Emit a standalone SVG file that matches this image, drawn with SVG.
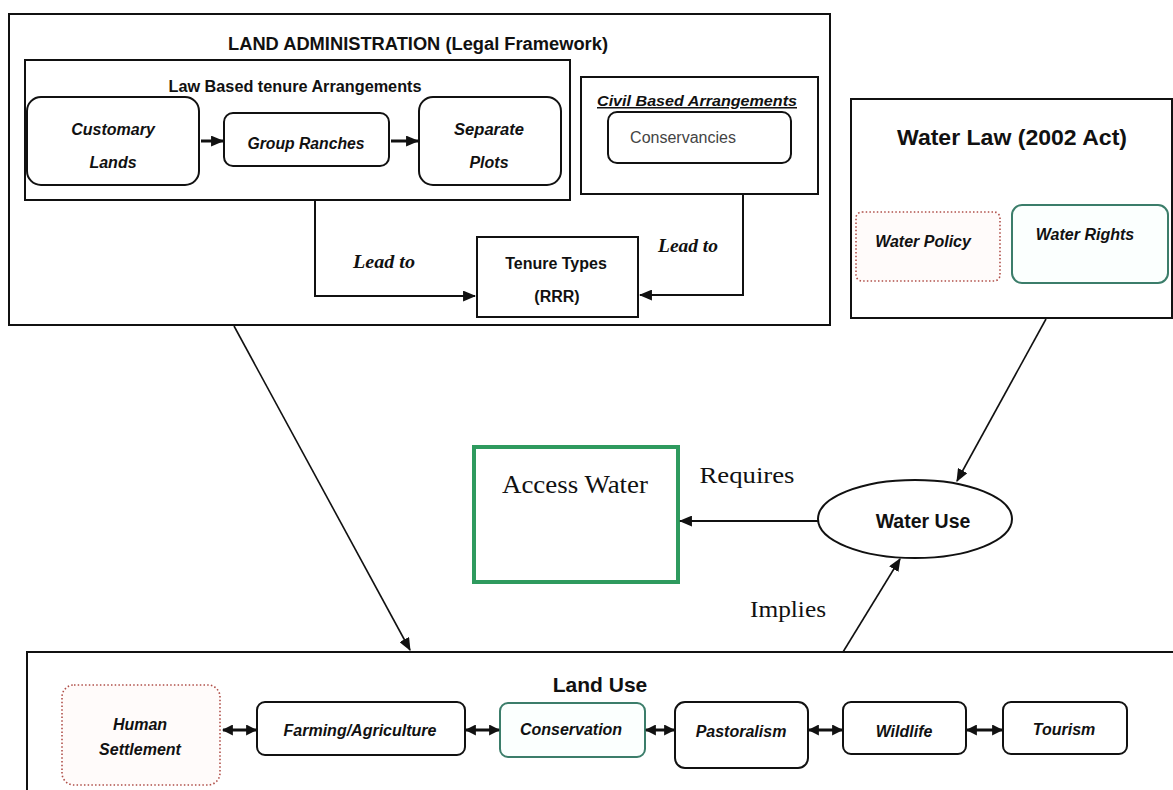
<svg xmlns="http://www.w3.org/2000/svg" width="1173" height="790" viewBox="0 0 1173 790">
<defs>
<style>
.box{fill:#fff;stroke:#111;stroke-width:2}
.rbox{fill:#fff;stroke:#111;stroke-width:2}
.t{font-family:"Liberation Sans",Arial,sans-serif;fill:#111;text-anchor:middle}
.b{font-weight:bold}
.i{font-style:italic;font-weight:bold}
.serif{font-family:"Liberation Serif","Times New Roman",serif;fill:#111;text-anchor:middle}
.line{fill:none;stroke:#111;stroke-width:2}
.thin{fill:none;stroke:#111;stroke-width:1.6}
.dbl{fill:none;stroke:#111;stroke-width:3}
.dotted{fill:#fffbfa;stroke:#b0504a;stroke-width:1.6;stroke-dasharray:1.5 2.2}
.teal{fill:#fbfffe;stroke:#3b7d6a;stroke-width:2}
</style>
<marker id="ah" viewBox="0 0 12 10" refX="11" refY="5" markerWidth="13" markerHeight="11" markerUnits="userSpaceOnUse" orient="auto">
<path d="M0,0 L12,5 L0,10 z" fill="#111"/>
</marker>
<marker id="ahs" viewBox="0 0 10 10" refX="9" refY="5" markerWidth="11" markerHeight="11" markerUnits="userSpaceOnUse" orient="auto-start-reverse">
<path d="M0,0 L10,5 L0,10 z" fill="#111"/>
</marker>
</defs>

<g id="land-administration">
<rect class="box" x="9" y="14" width="821" height="311"/>
<text class="t b" x="418" y="50" font-size="18" textLength="380" lengthAdjust="spacingAndGlyphs">LAND ADMINISTRATION (Legal Framework)</text>
</g>

<g id="law-based">
<rect class="box" x="25" y="60" width="545" height="140"/>
<text class="t b" x="295" y="92" font-size="16" textLength="253" lengthAdjust="spacingAndGlyphs">Law Based tenure Arrangements</text>
</g>

<g id="customary-lands">
<rect class="rbox" x="27" y="97" width="172" height="88" rx="14"/>
<text class="t i" x="113" y="135" font-size="16">Customary</text>
<text class="t i" x="113" y="168" font-size="16">Lands</text>
</g>

<g id="group-ranches">
<rect class="rbox" x="224" y="113" width="165" height="53" rx="9"/>
<text class="t i" x="306" y="149" font-size="16" textLength="117" lengthAdjust="spacingAndGlyphs">Group Ranches</text>
</g>

<g id="separate-plots">
<rect class="rbox" x="419" y="97" width="142" height="88" rx="14"/>
<text class="t i" x="489" y="135" font-size="16" textLength="70" lengthAdjust="spacingAndGlyphs">Separate</text>
<text class="t i" x="489" y="168" font-size="16">Plots</text>
</g>

<g id="civil-based">
<rect class="box" x="581" y="77" width="237" height="117"/>
<text class="t i" x="697" y="106" font-size="15" text-decoration="underline" textLength="200" lengthAdjust="spacingAndGlyphs">Civil Based Arrangements</text>
</g>

<g id="conservancies">
<rect class="rbox" x="608" y="112" width="183" height="51" rx="9"/>
<text class="t" x="683" y="143" font-size="16" style="fill:#444">Conservancies</text>
</g>

<g id="tenure-types">
<rect class="box" x="477" y="237" width="161" height="80"/>
<text class="t b" x="556" y="269" font-size="16">Tenure Types</text>
<text class="t b" x="557" y="302" font-size="16">(RRR)</text>
</g>

<g id="water-law">
<rect class="box" x="851" y="99" width="321" height="219"/>
<text class="t b" x="1012" y="145" font-size="22" textLength="230" lengthAdjust="spacingAndGlyphs">Water Law (2002 Act)</text>
</g>

<g id="water-policy">
<rect class="dotted" x="856" y="212" width="144" height="69" rx="6"/>
<text class="t i" x="923" y="247" font-size="16">Water Policy</text>
</g>

<g id="water-rights">
<rect class="teal" x="1012" y="205" width="156" height="78" rx="10"/>
<text class="t i" x="1085" y="240" font-size="16">Water Rights</text>
</g>

<g id="access-water">
<rect x="474" y="447" width="204" height="135" fill="#fff" stroke="#2e9a5e" stroke-width="4"/>
<text class="serif" x="575" y="493" font-size="25" textLength="146" lengthAdjust="spacingAndGlyphs">Access Water</text>
</g>

<g id="water-use">
<ellipse cx="915" cy="519" rx="97" ry="39" fill="#fff" stroke="#111" stroke-width="2"/>
<text class="t b" x="923" y="528" font-size="19.5">Water Use</text>
</g>

<g id="land-use">
<rect class="box" x="27" y="652" width="1160" height="170"/>
<text class="t b" x="600" y="692" font-size="21">Land Use</text>
</g>

<g id="human-settlement">
<rect class="dotted" x="62" y="685" width="158" height="100" rx="12"/>
<text class="t i" x="140" y="730" font-size="16">Human</text>
<text class="t i" x="140" y="755" font-size="16">Settlement</text>
</g>

<g id="farming">
<rect class="rbox" x="257" y="702" width="208" height="53" rx="8"/>
<text class="t i" x="360" y="736" font-size="16">Farming/Agriculture</text>
</g>

<g id="conservation">
<rect class="teal" x="500" y="703" width="145" height="54" rx="8"/>
<text class="t i" x="571" y="735" font-size="16">Conservation</text>
</g>

<g id="pastoralism">
<rect class="rbox" x="675" y="702" width="133" height="66" rx="10"/>
<text class="t i" x="741" y="737" font-size="16">Pastoralism</text>
</g>

<g id="wildlife">
<rect class="rbox" x="843" y="702" width="123" height="52" rx="8"/>
<text class="t i" x="904" y="737" font-size="16">Wildlife</text>
</g>

<g id="tourism">
<rect class="rbox" x="1003" y="702" width="124" height="52" rx="8"/>
<text class="t i" x="1064" y="735" font-size="16">Tourism</text>
</g>

<g id="connectors">
<line class="dbl" x1="201" y1="141" x2="223" y2="141" marker-end="url(#ah)"/>
<line class="dbl" x1="391" y1="141" x2="418" y2="141" marker-end="url(#ah)"/>
<polyline class="line" points="315,200 315,296 475,296" marker-end="url(#ah)"/>
<polyline class="line" points="743,194 743,295 640,295" marker-end="url(#ah)"/>
<text class="serif" x="384" y="268" font-size="18" font-style="italic" font-weight="bold" textLength="62" lengthAdjust="spacingAndGlyphs">Lead to</text>
<text class="serif" x="688" y="252" font-size="18" font-style="italic" font-weight="bold" textLength="60" lengthAdjust="spacingAndGlyphs">Lead to</text>
<line class="thin" x1="234" y1="326" x2="410" y2="650" marker-end="url(#ah)"/>
<line class="thin" x1="1046" y1="319" x2="957" y2="481" marker-end="url(#ah)"/>
<line class="line" x1="818" y1="521" x2="680" y2="521" marker-end="url(#ah)"/>
<text class="serif" x="747" y="483" font-size="24" textLength="95" lengthAdjust="spacingAndGlyphs">Requires</text>
<line class="thin" x1="843" y1="652" x2="900" y2="559" marker-end="url(#ah)"/>
<text class="serif" x="788" y="617" font-size="24" textLength="76" lengthAdjust="spacingAndGlyphs">Implies</text>
<line class="dbl" x1="223" y1="730" x2="256" y2="730" marker-start="url(#ahs)" marker-end="url(#ahs)"/>
<line class="dbl" x1="466" y1="730" x2="499" y2="730" marker-start="url(#ahs)" marker-end="url(#ahs)"/>
<line class="dbl" x1="646" y1="730" x2="674" y2="730" marker-start="url(#ahs)" marker-end="url(#ahs)"/>
<line class="dbl" x1="809" y1="730" x2="842" y2="730" marker-start="url(#ahs)" marker-end="url(#ahs)"/>
<line class="dbl" x1="967" y1="730" x2="1002" y2="730" marker-start="url(#ahs)" marker-end="url(#ahs)"/>
</g>
</svg>
